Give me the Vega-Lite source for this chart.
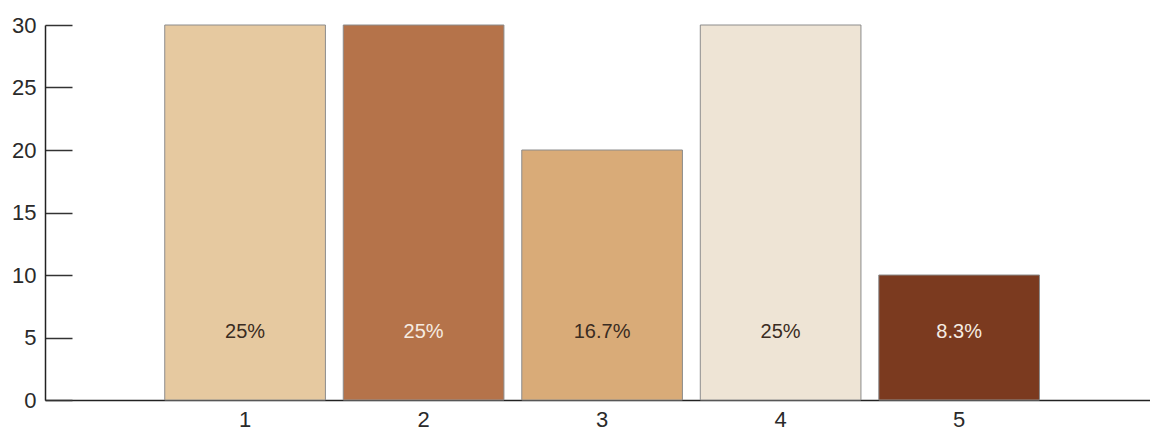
{
  "$schema": "https://vega.github.io/schema/vega-lite/v6.json",
  "autosize": "none",
  "width": 1105,
  "height": 375,
  "padding": {"left": 45, "top": 25, "right": 0, "bottom": 30},
  "background": "white",
  "config": {
    "view": {"stroke": null},
    "font": "Liberation Sans"
  },
  "data": {
    "values": [
      {"group": "1", "count": 30, "share": "25%"},
      {"group": "2", "count": 30, "share": "25%"},
      {"group": "3", "count": 20, "share": "16.7%"},
      {"group": "4", "count": 30, "share": "25%"},
      {"group": "5", "count": 10, "share": "8.3%"}
    ]
  },
  "encoding": {
    "x": {
      "field": "group",
      "type": "nominal",
      "scale": {"paddingInner": 0.1, "paddingOuter": 0.645, "align": 0.52},
      "axis": {
        "title": null,
        "labelAngle": 0,
        "ticks": false,
        "grid": false,
        "domainColor": "#222",
        "domainWidth": 1.5,
        "labelFont": "Liberation Sans",
        "labelFontSize": 22,
        "labelColor": "#2a2a2a",
        "labelPadding": 9
      }
    }
  },
  "layer": [
    {
      "mark": {"type": "bar", "stroke": "#8c8c8c", "strokeWidth": 1},
      "encoding": {
        "y": {
          "field": "count",
          "type": "quantitative",
          "scale": {"domain": [0, 30], "nice": false},
          "axis": {
            "title": null,
            "values": [0, 5, 10, 15, 20, 25, 30],
            "grid": false,
            "tickSize": -27,
            "tickColor": "#333",
            "tickWidth": 1.5,
            "domainColor": "#222",
            "domainWidth": 1.5,
            "labelFont": "Liberation Sans",
            "labelFontSize": 22,
            "labelColor": "#2a2a2a",
            "labelPadding": 36
          }
        },
        "fill": {
          "field": "group",
          "type": "nominal",
          "scale": {
            "domain": ["1", "2", "3", "4", "5"],
            "range": ["#E6C9A0", "#B5734A", "#D9AB78", "#EEE4D5", "#7B3A1F"]
          },
          "legend": null
        }
      }
    },
    {
      "mark": {"type": "text", "fontSize": 20, "baseline": "middle", "align": "center"},
      "encoding": {
        "y": {"datum": 5.45, "type": "quantitative"},
        "text": {"field": "share"},
        "color": {
          "field": "group",
          "type": "nominal",
          "scale": {
            "domain": ["1", "2", "3", "4", "5"],
            "range": ["#3a2c22", "#f6ece2", "#3a2c22", "#3a2c22", "#f6ece2"]
          },
          "legend": null
        }
      }
    }
  ]
}
